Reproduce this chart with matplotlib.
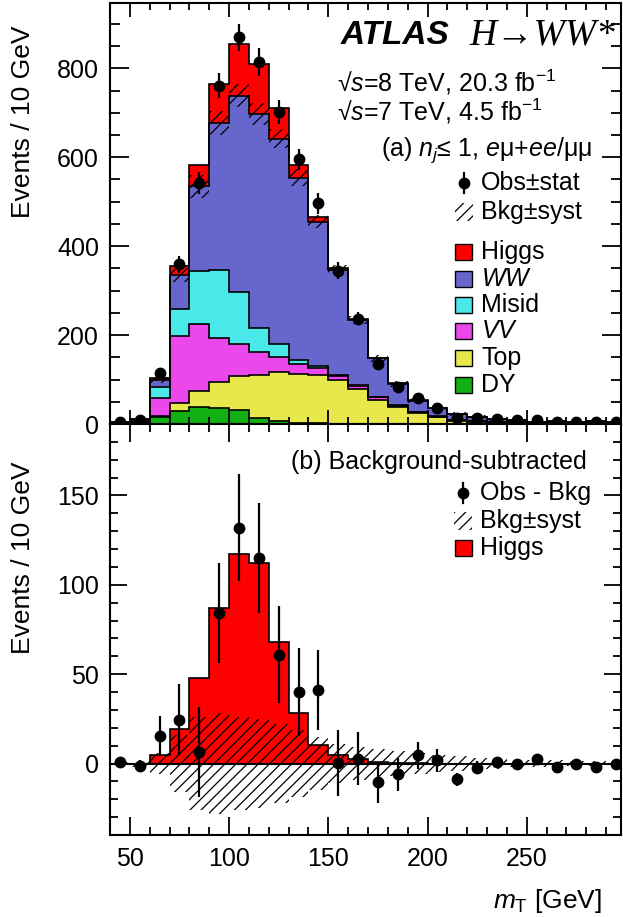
import numpy as np
import matplotlib.pyplot as plt
from matplotlib.ticker import MultipleLocator
from matplotlib.patches import Rectangle

plt.rcParams['font.family'] = ['Liberation Sans', 'DejaVu Sans']
plt.rcParams['mathtext.fontset'] = 'custom'
plt.rcParams['mathtext.rm'] = 'Liberation Sans'
plt.rcParams['mathtext.it'] = 'Liberation Sans:italic'
plt.rcParams['mathtext.bf'] = 'Liberation Sans:bold'
plt.rcParams['hatch.linewidth'] = 0.9

# m_T bins, 10 GeV wide
edges = np.arange(40, 310, 10)

# top panel: stacked backgrounds + signal (events / 10 GeV)
dy    = [1, 4, 15, 29, 39, 37, 31, 14, 7, 3, 2, 1, 0.5, 0.5, 0.3, 0.2, 0.1, 0, 0, 0, 0, 0, 0, 0, 0, 0]
top   = [0.5, 1, 3, 19, 35, 57, 78, 97, 109, 109, 108, 97, 78, 54, 38, 24, 15, 7, 5, 4, 3, 2, 1.5, 1, 1, 1]
vv    = [0.5, 2, 40, 150, 152, 99, 72, 52, 34, 22, 16, 10, 8, 6, 3, 2, 1.5, 1, 1, 0.5, 0.5, 0.5, 0.3, 0.3, 0.2, 0.2]
misid = [1, 2, 26, 60, 119, 153, 116, 52, 29, 11, 5, 2, 1, 1, 0.5, 0.5, 0.3, 0.3, 0.2, 0.2, 0.1, 0.1, 0.1, 0.1, 0.1, 0.1]
ww    = [1, 2, 15, 77, 190, 331, 441, 483, 463, 409, 324, 236, 146, 86, 49, 26, 19, 14.5, 10, 6, 5.8, 2.6, 5, 3.6, 4.7, 3.7]
higgs = [0, 0, 4.5, 19.5, 48, 87, 117, 112, 68, 28, 10.5, 4.5, 2.5, 1, 0.5, 0.3, 0, 0, 0, 0, 0, 0, 0, 0, 0, 0]
obs   = [5, 10, 114, 359, 542, 761, 870, 814, 702, 595, 496, 345, 237, 136, 84, 58, 37, 13, 13, 11, 9, 8, 5, 5, 4, 5]
stat  = [2.2, 3.2, 11, 20, 25, 28, 30, 31, 27, 24.5, 22.5, 18.5, 15, 11.5, 9, 7.5, 6.5, 3.6, 3.6, 3.3, 3, 2.8, 2.2, 2.2, 2, 2.2]
syst  = [1, 2, 6, 16, 26, 28, 26, 25, 22, 19, 15, 11, 9, 8, 7, 6, 5, 4, 3, 3, 2, 2, 2, 1.5, 1.5, 1]

# bottom panel: observed minus background
obs_sub = [1, -1.3, 15.5, 24.6, 6.5, 84, 132, 115, 61, 40, 41, 0.5, 2.8, -10.6, -6.1, 4.7, 1.9, -8.9, -2.4, 0.6, -0.4, 2.8, -2.2, 0, -1.9, 0]

names  = ['DY', 'Top', '$VV$', 'Misid', '$WW$', 'Higgs']
layers = [dy, top, vv, misid, ww, higgs]
colors = ['#12B012', '#E8E84C', '#EA48EA', '#4AE8E8', '#6666CC', '#FF0000']

W, H = 623, 917
def fx(x):
    return x / W
def fy(y):
    return 1 - y / H

fig = plt.figure(figsize=(W / 100, H / 100), dpi=100)
ax1 = fig.add_axes([fx(110), fy(424), 511 / W, 421 / H])
ax2 = fig.add_axes([fx(110), fy(835), 511 / W, 411 / H])

centers = edges[:-1] + 5

# ---- top panel
cum = np.zeros(len(dy))
tops = []
for vals, c in zip(layers, colors):
    new = cum + np.array(vals)
    ax1.stairs(new, edges, baseline=cum, fill=True, color=c, lw=0, zorder=1)
    tops.append(new)
    cum = new
for t in tops:
    ax1.stairs(t, edges, color='k', lw=1.2, zorder=2)
bkg = tops[4]
ax1.stairs(bkg + np.array(syst), edges, baseline=bkg - np.array(syst), fill=True,
           facecolor='none', edgecolor='k', hatch='///', lw=0, zorder=3)
ax1.errorbar(centers, obs, yerr=stat, fmt='o', color='k', ms=7.5, elinewidth=1.6,
             capsize=0, zorder=4)

ax1.set_xlim(40, 297.5)
ax1.set_ylim(0, 947)

# ---- bottom panel
ax2.stairs(higgs, edges, fill=True, color='#FF0000', lw=0, zorder=1)
ax2.stairs(higgs, edges, color='k', lw=1.2, zorder=2)
ax2.axhline(0, color='k', lw=1.5, zorder=2)
ax2.stairs(syst, edges, baseline=-np.array(syst), fill=True, facecolor='none',
           edgecolor='k', hatch='///', lw=0, zorder=3)
ax2.errorbar(centers, obs_sub, yerr=stat, fmt='o', color='k', ms=7.5, elinewidth=1.6,
             capsize=0, zorder=4)
ax2.set_xlim(40, 297.5)
ax2.set_ylim(-40, 190)

for ax in (ax1, ax2):
    ax.xaxis.set_major_locator(MultipleLocator(50))
    ax.xaxis.set_minor_locator(MultipleLocator(10))
    ax.tick_params(which='both', direction='in', top=True, right=True, labelsize=18,
                   width=1.3)
    for s in ax.spines.values():
        s.set_linewidth(1.5)
ax1.yaxis.set_major_locator(MultipleLocator(200))
ax1.yaxis.set_minor_locator(MultipleLocator(50))
ax2.yaxis.set_major_locator(MultipleLocator(50))
ax2.yaxis.set_minor_locator(MultipleLocator(10))
ax1.tick_params(axis='x', which='major', length=10, labelbottom=False)
ax1.tick_params(axis='x', which='minor', length=5)
ax1.tick_params(axis='y', which='major', length=14, pad=8)
ax1.tick_params(axis='y', which='minor', length=7)
ax2.tick_params(axis='x', which='major', length=13, pad=9)
ax2.tick_params(axis='x', which='minor', length=6)
ax2.tick_params(axis='y', which='major', length=12, pad=8)
ax2.tick_params(axis='y', which='minor', length=6)

ax1.set_ylabel('Events / 10 GeV', fontsize=19, loc='top')
ax1.yaxis.set_label_coords((35 - 110) / 511, (424 - 26) / 421)
ax2.set_ylabel('Events / 10 GeV', fontsize=19, loc='top')
ax2.yaxis.set_label_coords((35 - 110) / 511, (835 - 462) / 411)
ax2.set_xlabel('$m_{\\mathrm{T}}$ [GeV]', fontsize=19, loc='right')
ax2.xaxis.set_label_coords((602 - 110) / 511, (835 - 887) / 411)

# ---- annotations, top panel
fig.text(fx(341), fy(35), 'ATLAS', fontsize=24, fontweight='bold', fontstyle='italic',
         va='center')
fig.text(fx(615), fy(35), 'H\u2192WW*', fontsize=27, fontstyle='italic',
         family=['Liberation Serif', 'DejaVu Serif'], va='center', ha='right')
fig.text(fx(337), fy(82), '\u221a$s$=8 TeV, 20.3 fb$^{-1}$', fontsize=18, va='center')
fig.text(fx(337), fy(111), '\u221a$s$=7 TeV, 4.5 fb$^{-1}$', fontsize=18, va='center')
fig.text(fx(592), fy(150), '(a) $n_j$\u2264 1, $e$\u03bc+$ee$/\u03bc\u03bc', fontsize=18,
         va='center', ha='right')

def obs_icon(ax, x, y):
    ax.plot([fx(x)], [fy(y)], 'o', color='k', ms=7.5, transform=fig.transFigure,
            clip_on=False)
    ax.plot([fx(x), fx(x)], [fy(y - 10), fy(y + 10)], color='k', lw=1.6,
            transform=fig.transFigure, clip_on=False)

def hatch_icon(ax, x, y):
    ax.add_artist(Rectangle((fx(x - 9), fy(y + 9)), 18 / W, 18 / H, facecolor='none',
                            edgecolor='k', hatch='///', lw=0, transform=fig.transFigure,
                            clip_on=False))

def box_icon(ax, x, y, c):
    ax.add_artist(Rectangle((fx(x - 8.5), fy(y + 8)), 17 / W, 16 / H, facecolor=c,
                            edgecolor='k', lw=1, transform=fig.transFigure, clip_on=False))

obs_icon(ax1, 464, 183)
fig.text(fx(481), fy(183), 'Obs\u00b1stat', fontsize=18, va='center')
hatch_icon(ax1, 464, 212)
fig.text(fx(481), fy(212), 'Bkg\u00b1syst', fontsize=18, va='center')
leg_y = [252, 279, 305, 331, 358, 385]
for name, c, y in zip(names[::-1], colors[::-1], leg_y):
    box_icon(ax1, 464, y, c)
    fig.text(fx(481), fy(y), name, fontsize=18, va='center')

# ---- annotations, bottom panel
fig.text(fx(587), fy(462), '(b) Background-subtracted', fontsize=18, va='center', ha='right')
obs_icon(ax2, 463, 493)
fig.text(fx(480), fy(493), 'Obs - Bkg', fontsize=18, va='center')
hatch_icon(ax2, 463, 521)
fig.text(fx(480), fy(521), 'Bkg\u00b1syst', fontsize=18, va='center')
box_icon(ax2, 463, 548, '#FF0000')
fig.text(fx(480), fy(548), 'Higgs', fontsize=18, va='center')

fig.savefig('out.png', dpi=100)
